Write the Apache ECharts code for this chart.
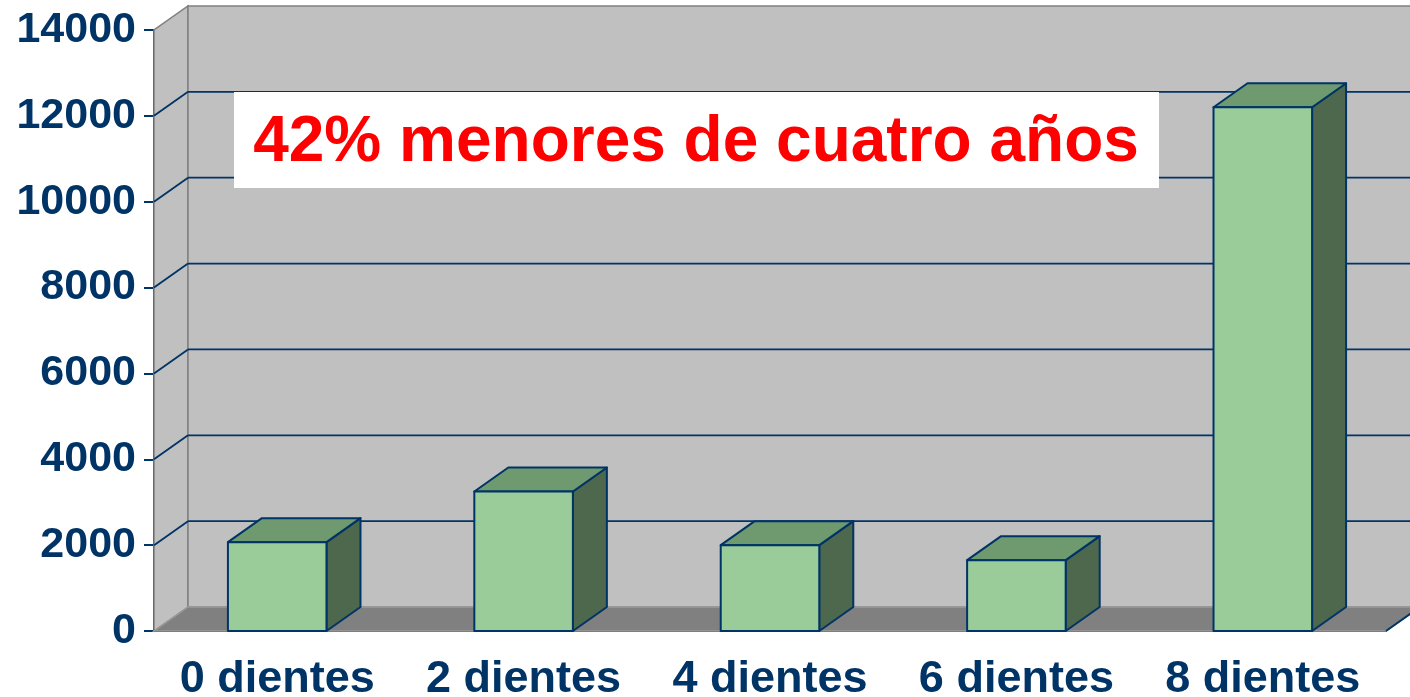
<!DOCTYPE html>
<html>
<head>
<meta charset="utf-8">
<script src="https://cdn.jsdelivr.net/npm/echarts@6/dist/echarts.min.js"></script>
<style>
  html, body { margin: 0; padding: 0; background: #ffffff; }
  #chart { width: 1410px; height: 697px; }
</style>
</head>
<body>
<div id="chart"></div>
<script>
const categories = ["0 dientes", "2 dientes", "4 dientes", "6 dientes", "8 dientes"];
const values = [2070, 3250, 2000, 1650, 12200];
const yTicks = [0, 2000, 4000, 6000, 8000, 10000, 12000, 14000];
const note = "42% menores de cuatro años";

const NAVY = "#003366";
const FONT = "'Liberation Sans', Arial, sans-serif";
// pseudo 3d depth offset in pixels
const DX = 34;
const DY = -24;

const chart = echarts.init(document.getElementById("chart"));

function renderWalls(params, api) {
  const r = params.coordSys;
  const x0 = r.x, y0 = r.y, x1 = r.x + r.width, y1 = r.y + r.height;
  return {
    type: "group",
    children: [
      {
        type: "polygon",
        shape: { points: [[x0, y1], [x0 + DX, y1 + DY], [x0 + DX, y0 + DY], [x0, y0]] },
        style: { fill: "#C0C0C0", stroke: "#808080", lineWidth: 1.5 },
      },
      {
        type: "rect",
        shape: { x: x0 + DX, y: y0 + DY, width: r.width, height: r.height },
        style: { fill: "#C0C0C0", stroke: "#808080", lineWidth: 1.5 },
      },
      {
        type: "polygon",
        shape: { points: [[x0, y1], [x1, y1], [x1 + DX, y1 + DY], [x0 + DX, y1 + DY]] },
        style: { fill: "#808080", stroke: "#9A9A9A", lineWidth: 1.5 },
      },
      {
        type: "line",
        shape: { x1: x1, y1: y1, x2: x1 + DX, y2: y1 + DY },
        style: { stroke: NAVY, lineWidth: 2 },
      },
    ],
  };
}

function renderGridLine(params, api) {
  const r = params.coordSys;
  const x0 = r.x, x1 = r.x + r.width;
  const y = api.coord([0, api.value(1)])[1];
  return {
    type: "group",
    children: [
      {
        type: "line",
        shape: { x1: x0, y1: y, x2: x0 + DX, y2: y + DY },
        style: { stroke: NAVY, lineWidth: 1.8 },
      },
      {
        type: "line",
        shape: { x1: x0 + DX, y1: y + DY, x2: x1 + DX, y2: y + DY },
        style: { stroke: NAVY, lineWidth: 1.8 },
      },
    ],
  };
}

function renderBar(params, api) {
  const top = api.coord([api.value(0), api.value(1)]);
  const base = api.coord([api.value(0), 0]);
  const w = api.size([1, 0])[0] * 0.4;
  const xl = top[0] - w / 2, xr = top[0] + w / 2;
  const ty = top[1], by = base[1];
  const line = { stroke: NAVY, lineWidth: 2, lineJoin: "round" };
  return {
    type: "group",
    children: [
      {
        type: "polygon",
        shape: { points: [[xr, ty], [xr + DX, ty + DY], [xr + DX, by + DY], [xr, by]] },
        style: Object.assign({ fill: "#4D684D" }, line),
      },
      {
        type: "polygon",
        shape: { points: [[xl, ty], [xl + DX, ty + DY], [xr + DX, ty + DY], [xr, ty]] },
        style: Object.assign({ fill: "#6F9A6F" }, line),
      },
      {
        type: "rect",
        shape: { x: xl, y: ty, width: w, height: by - ty },
        style: Object.assign({ fill: "#99CC99" }, line),
      },
    ],
  };
}

chart.setOption({
  animation: false,
  backgroundColor: "#ffffff",
  grid: { left: 154, right: 24, top: 30, bottom: 66, containLabel: false, outerBoundsMode: "none" },
  xAxis: {
    type: "category",
    data: categories,
    axisLine: { lineStyle: { color: NAVY, width: 2 } },
    axisTick: { length: 10, lineStyle: { color: NAVY, width: 2 } },
    axisLabel: {
      interval: 0,
      margin: 26,
      color: NAVY,
      fontFamily: FONT,
      fontWeight: "bold",
      fontSize: 45,
    },
    splitLine: { show: false },
  },
  yAxis: {
    type: "value",
    min: 0,
    max: 14000,
    interval: 2000,
    axisLine: { show: true, lineStyle: { color: NAVY, width: 2 } },
    axisTick: { show: true, length: 10, lineStyle: { color: NAVY, width: 2 } },
    axisLabel: {
      margin: 18,
      color: NAVY,
      fontFamily: FONT,
      fontWeight: "bold",
      fontSize: 43,
      formatter: (v) => String(v),
    },
    splitLine: { show: false },
  },
  graphic: [
    {
      type: "rect",
      left: 234,
      top: 92,
      z: 100,
      shape: { width: 925, height: 96 },
      style: { fill: "#ffffff" },
    },
    {
      type: "text",
      x: 696,
      y: 143,
      z: 101,
      style: {
        text: note,
        fill: "#FF0000",
        font: "bold 64px " + FONT,
        textAlign: "center",
        textVerticalAlign: "middle",
      },
    },
  ],
  series: [
    {
      type: "custom",
      name: "walls",
      z: 1,
      clip: false,
      silent: true,
      renderItem: renderWalls,
      data: [[0, 0]],
    },
    {
      type: "custom",
      name: "grid",
      z: 2,
      clip: false,
      silent: true,
      renderItem: renderGridLine,
      data: yTicks.filter((v) => v > 0 && v < 14000).map((v) => [0, v]),
    },
    {
      type: "custom",
      name: "bars",
      z: 3,
      clip: false,
      renderItem: renderBar,
      data: values.map((v, i) => [i, v]),
    },
  ],
});
</script>
</body>
</html>
